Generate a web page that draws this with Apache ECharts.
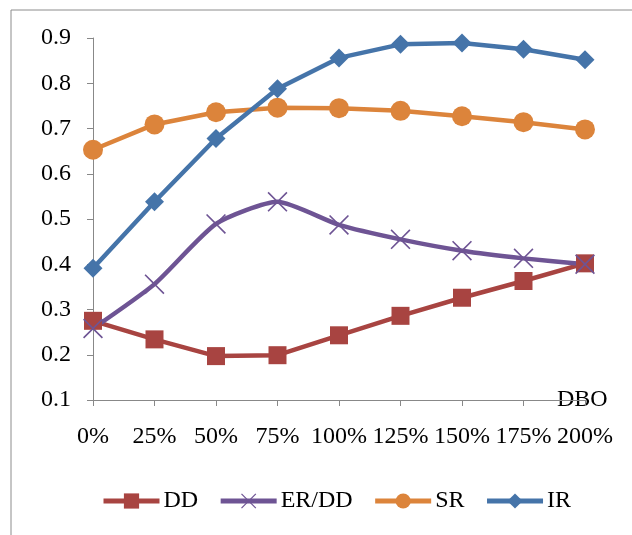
<!DOCTYPE html>
<html>
<head>
<meta charset="utf-8">
<script src="https://cdn.jsdelivr.net/npm/echarts@6/dist/echarts.min.js"></script>
<style>html,body{margin:0;padding:0;background:#fff}#c{width:632px;height:535px}</style>
</head>
<body>
<div id="c"></div>
<script>
var categories = ['0%','25%','50%','75%','100%','125%','150%','175%','200%'];
var DD   = [0.275,0.234,0.197,0.199,0.243,0.286,0.326,0.363,0.402];
var ERDD = [0.258,0.356,0.489,0.538,0.487,0.455,0.430,0.413,0.400];
var SR   = [0.653,0.709,0.736,0.746,0.745,0.739,0.727,0.714,0.698];
var IR   = [0.391,0.538,0.678,0.788,0.856,0.886,0.889,0.875,0.852];
var seriesNames = ['DD','ER/DD','SR','IR'];
var yTicks = {min:0.1, max:0.9, interval:0.1};

var colors = ['#A84441','#6E5494','#DC843B','#4574A9'];
var crossPath = 'path://M0,0.8L0.8,0L7,6.2L13.2,0L14,0.8L7.8,7L14,13.2L13.2,14L7,7.8L0.8,14L0,13.2L6.2,7Z';
var font = 'Liberation Serif';
var fs = 24;

function mk(name, data, color, symbol, size, smooth){
  return {
    name: name, type: 'line', data: data, smooth: smooth,
    symbol: symbol, symbolSize: size,
    lineStyle: {color: color, width: 4.5},
    itemStyle: {color: color},
    emphasis: {disabled: true}
  };
}

var chart = echarts.init(document.getElementById('c'));
chart.setOption({
  animation: false,
  backgroundColor: '#fff',
  graphic: [{type:'rect', shape:{x:11, y:10, width:700, height:700}, style:{fill:'none', stroke:'#8c8c8c', lineWidth:1}, silent:true, z:-1}],
  grid: {left: 93, right: 47, top: 38, bottom: 135},
  legend: {
    data: seriesNames, left: 96, top: 484,
    itemWidth: 56, itemHeight: 19, itemGap: 20,
    lineStyle: {width: 5},
    textStyle: {fontFamily: font, fontSize: fs, color: '#000', padding:[0,0,0,-1]}
  },
  xAxis: {
    type: 'category', data: categories, boundaryGap: false,
    name: 'DBO', nameLocation: 'end', nameGap: -28,
    nameTextStyle: {fontFamily: font, fontSize: fs, color: '#000', align: 'left', verticalAlign: 'middle', padding: [0,0,12,0]},
    axisLine: {lineStyle: {color: '#888', width: 1}},
    axisTick: {show: true, length: 6, alignWithLabel: true, lineStyle:{color:'#888'}},
    axisLabel: {fontFamily: font, fontSize: fs, color: '#000', margin: 25, interval: 0},
    splitLine: {show: false}
  },
  yAxis: {
    type: 'value', min: yTicks.min, max: yTicks.max, interval: yTicks.interval,
    axisLine: {show: true, lineStyle: {color: '#888', width: 1}},
    axisTick: {show: true, length: 6, lineStyle:{color:'#888'}},
    axisLabel: {fontFamily: font, fontSize: fs, color: '#000', margin: 22,
      formatter: function(v){ return v.toFixed(1); }},
    splitLine: {show: false}
  },
  series: [
    mk('DD', DD, colors[0], 'rect', 18, false),
    mk('ER/DD', ERDD, colors[1], crossPath, 20, 0.2),
    mk('SR', SR, colors[2], 'circle', 20, false),
    mk('IR', IR, colors[3], 'diamond', 19, false)
  ]
});
</script>
</body>
</html>
